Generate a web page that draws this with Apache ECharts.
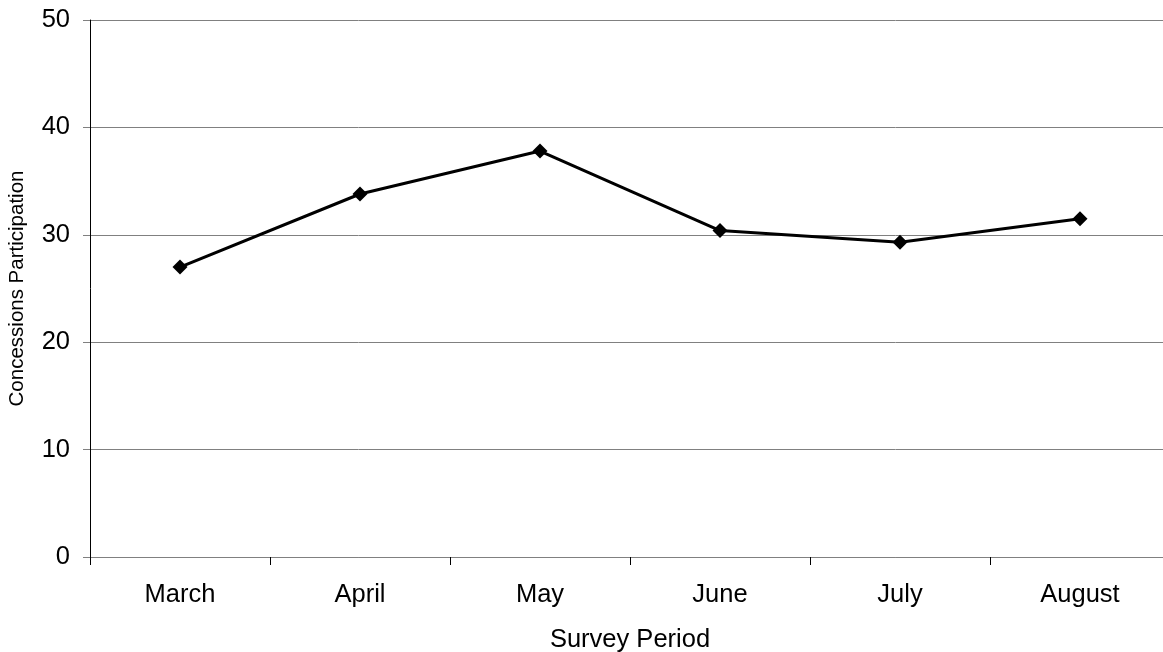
<!DOCTYPE html>
<html>
<head>
<meta charset="utf-8">
<script src="https://cdn.jsdelivr.net/npm/echarts@6/dist/echarts.min.js"></script>
<style>
  html, body { margin: 0; padding: 0; background: #fff; }
  #chart { width: 1163px; height: 652px; }
</style>
</head>
<body>
<div id="chart"></div>
<script>
// Survey months and concessions participation per month
const months = ['March', 'April', 'May', 'June', 'July', 'August'];
const participation = [27.0, 33.8, 37.8, 30.4, 29.3, 31.5];
const yTicks = [0, 10, 20, 30, 40, 50];

const chart = echarts.init(document.getElementById('chart'));
const font = 'Liberation Sans, Arial, sans-serif';

chart.setOption({
  animation: false,
  // the plot area runs a little past the right edge of the canvas
  grid: { left: 90, top: 20, width: 1080, height: 537, containLabel: false, outerBoundsMode: 'none' },
  xAxis: {
    type: 'category',
    data: months,
    boundaryGap: true,
    name: 'Survey Period',
    nameLocation: 'middle',
    nameGap: 70,
    nameTextStyle: { fontFamily: font, fontSize: 25.5, color: '#000' },
    axisLine: { show: true, lineStyle: { color: '#808080', width: 1 } },
    axisTick: { show: true, length: 8, lineStyle: { color: '#000', width: 1 } },
    axisLabel: { fontFamily: font, fontSize: 25.5, color: '#000', margin: 25 },
    splitLine: { show: false }
  },
  yAxis: {
    type: 'value',
    min: yTicks[0],
    max: yTicks[yTicks.length - 1],
    interval: yTicks[1] - yTicks[0],
    name: 'Concessions Participation',
    nameLocation: 'middle',
    nameGap: 62,
    nameTextStyle: { fontFamily: font, fontSize: 20.5, color: '#000' },
    axisLine: { show: true, lineStyle: { color: '#000', width: 1 } },
    axisTick: { show: true, length: 7, lineStyle: { color: '#808080', width: 1 } },
    axisLabel: { fontFamily: font, fontSize: 25.5, color: '#000', margin: 20 },
    splitLine: { show: true, lineStyle: { color: '#808080', width: 1 } }
  },
  series: [{
    type: 'line',
    data: participation,
    symbol: 'diamond',
    symbolSize: 15,
    showAllSymbol: true,
    itemStyle: { color: '#000' },
    lineStyle: { color: '#000', width: 3 }
  }]
});
</script>
</body>
</html>
